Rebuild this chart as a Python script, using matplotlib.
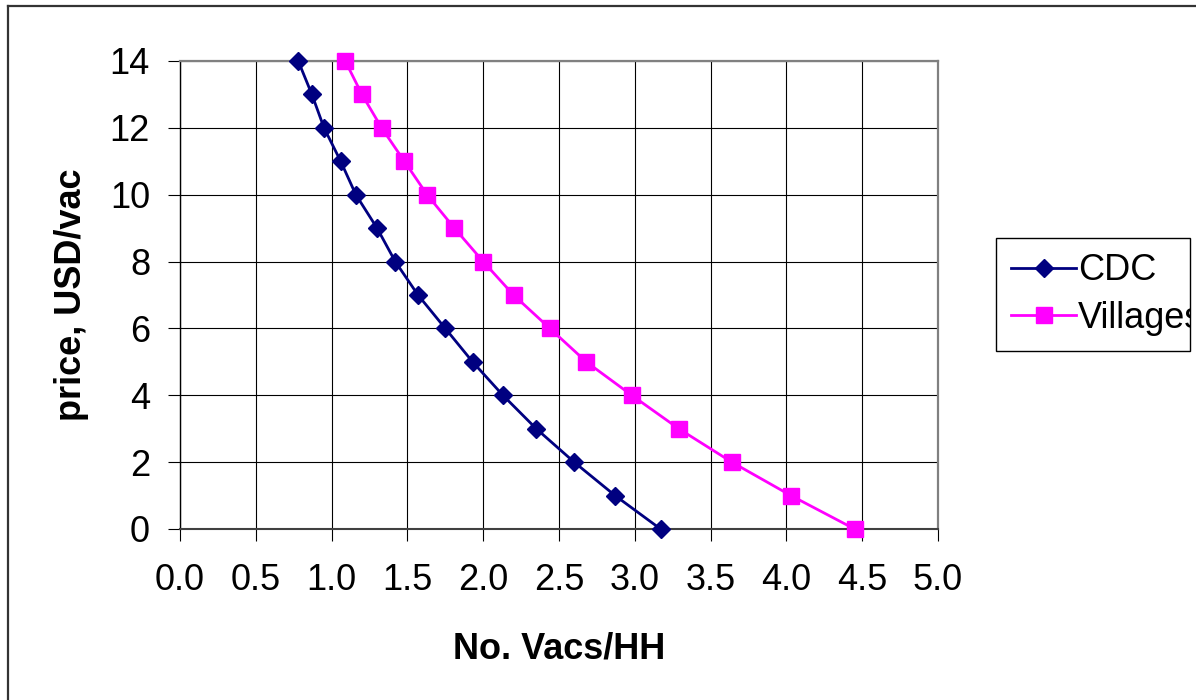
import numpy as np
import matplotlib
matplotlib.use("Agg")
import matplotlib.pyplot as plt
from matplotlib.lines import Line2D
from matplotlib.transforms import Bbox, TransformedBbox

plt.rcParams['font.family'] = ['Liberation Sans', 'DejaVu Sans']

# price levels (USD per vaccination) and demand per household
price = [14, 13, 12, 11, 10, 9, 8, 7, 6, 5, 4, 3, 2, 1, 0]
cdc_vacs = [0.78, 0.87, 0.95, 1.06, 1.16, 1.30, 1.42, 1.57, 1.75, 1.93,
            2.13, 2.35, 2.60, 2.87, 3.17]
village_vacs = [1.09, 1.20, 1.33, 1.48, 1.63, 1.81, 2.00, 2.20, 2.44, 2.68,
                2.98, 3.29, 3.64, 4.03, 4.45]
series_names = ["CDC", "Villages"]
xticks = np.arange(0, 5.01, 0.5)
yticks = np.arange(0, 15, 2)

W, H = 1196, 700
fig = plt.figure(figsize=(W / 100, H / 100), dpi=100)
ax = fig.add_axes([180 / W, 1 - 529 / H, 758 / W, 468 / H])

ax.plot(cdc_vacs, price, color="#000080", lw=2.0, marker="D", ms=8.8,
        mec="#000080", mfc="#000080", label=series_names[0], zorder=3, clip_on=False)
ax.plot(village_vacs, price, color="#FF00FF", lw=2.0, marker="s", ms=11,
        mec="#FF00FF", mfc="#FF00FF", label=series_names[1], zorder=3, clip_on=False)

ax.set_xlim(0, 5)
ax.set_ylim(0, 14)
ax.set_xticks(xticks)
ax.set_xticklabels(["%.1f" % v for v in xticks])
ax.set_yticks(yticks)
ax.set_yticklabels(["%d" % v for v in yticks])
ax.grid(True, color="black", lw=0.8)
ax.set_axisbelow(True)
ax.tick_params(direction="out", length=8.6, width=0.8, labelsize=26, color="black")
ax.tick_params(axis="y", pad=13)
ax.tick_params(axis="x", pad=16)

for side in ["top", "right"]:
    ax.spines[side].set_color("#808080")
    ax.spines[side].set_linewidth(1.6)
ax.spines["left"].set_color("black")
ax.spines["left"].set_linewidth(1.0)
ax.spines["bottom"].set_color("#404040")
ax.spines["bottom"].set_linewidth(1.5)

ax.set_xlabel("No. Vacs/HH", fontsize=26, fontweight="bold")
ax.set_ylabel("price, USD/vac", fontsize=26, fontweight="bold")
ax.xaxis.set_label_coords(0.5, -0.22)
ax.yaxis.set_label_coords(-0.12, 0.5)

# legend box on the right, text cut off at its border
leg_box = (996 / W, 1 - 352 / H, 194 / W, 115 / H)
leg = ax.legend(loc="center left", bbox_to_anchor=leg_box, bbox_transform=fig.transFigure,
                mode="expand", fontsize=26, frameon=True, fancybox=False,
                edgecolor="black", framealpha=1, borderpad=0.42, labelspacing=0.35,
                handlelength=1.8, handletextpad=0.05, borderaxespad=0)
leg.get_frame().set_linewidth(1.0)
clip = TransformedBbox(Bbox.from_bounds(*leg_box), fig.transFigure)
for t in leg.get_texts():
    t.set_clip_box(clip)
    t.set_clip_on(True)

# outer chart border (only top and left edges fall inside the image)
fig.add_artist(Line2D([8 / W, 8 / W], [0, 1 - 6 / H], transform=fig.transFigure,
                      color="#333333", lw=1.6))
fig.add_artist(Line2D([8 / W, 1], [1 - 6 / H, 1 - 6 / H], transform=fig.transFigure,
                      color="#333333", lw=1.6))

fig.savefig("out.png", dpi=100)
